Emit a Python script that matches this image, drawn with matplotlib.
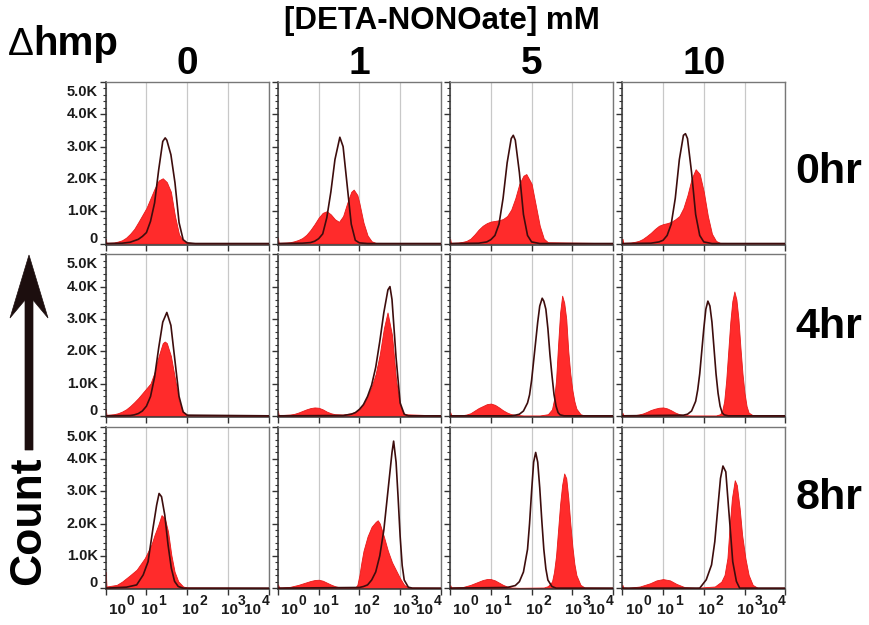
import numpy as np
import matplotlib
matplotlib.use('Agg')
import matplotlib.pyplot as plt
from matplotlib.patches import Polygon
from matplotlib.ticker import FixedLocator, LogLocator, MultipleLocator, NullFormatter

plt.rcParams['font.family'] = ['Liberation Sans', 'DejaVu Sans']

#%% data: (log10 fluorescence, count in thousands)
concs = ['0', '1', '5', '10']
times = ['0hr', '4hr', '8hr']
ytick_vals = [0, 1, 2, 3, 4, 5]
ytick_labels = ['0', '1.0K', '2.0K', '3.0K', '4.0K', '5.0K']
xtick_exps = [0, 1, 2, 3, 4]

# NO-treated samples (red filled)
red_0hr = [
    [(0.0, 0.15), (0.02, 0.02), (0.2, 0.03), (0.3, 0.06), (0.4, 0.1), (0.5, 0.18), (0.6, 0.3), (0.7, 0.45),
     (0.8, 0.66), (0.9, 0.88), (1.0, 1.1), (1.1, 1.4), (1.2, 1.7), (1.3, 1.95), (1.4, 2.02), (1.5, 1.9),
     (1.6, 1.6), (1.7, 0.85), (1.8, 0.28), (1.9, 0.08), (2.0, 0.03), (2.2, 0.01), (4.0, 0.01)],
    [(0.0, 0.18), (0.02, 0.02), (0.2, 0.03), (0.3, 0.04), (0.4, 0.07), (0.5, 0.11), (0.6, 0.17), (0.7, 0.27),
     (0.8, 0.42), (0.9, 0.6), (1.0, 0.8), (1.1, 0.95), (1.2, 1.0), (1.3, 0.9), (1.4, 0.75), (1.5, 0.67),
     (1.6, 0.85), (1.7, 1.25), (1.8, 1.6), (1.86, 1.67), (1.95, 1.5), (2.0, 1.25), (2.1, 0.65), (2.2, 0.25),
     (2.3, 0.07), (2.4, 0.02), (4.0, 0.01)],
    [(0.0, 0.15), (0.02, 0.02), (0.2, 0.03), (0.3, 0.05), (0.4, 0.08), (0.5, 0.15), (0.6, 0.28), (0.7, 0.43),
     (0.8, 0.55), (0.9, 0.63), (1.0, 0.68), (1.1, 0.7), (1.2, 0.72), (1.3, 0.76), (1.4, 0.85), (1.5, 1.05),
     (1.6, 1.4), (1.7, 1.85), (1.8, 2.1), (1.87, 2.15), (2.0, 1.85), (2.1, 1.2), (2.2, 0.55), (2.3, 0.15),
     (2.4, 0.04), (4.0, 0.01)],
    [(0.0, 0.15), (0.02, 0.02), (0.2, 0.03), (0.3, 0.05), (0.4, 0.08), (0.5, 0.14), (0.6, 0.23), (0.7, 0.33),
     (0.8, 0.45), (0.9, 0.55), (1.0, 0.6), (1.1, 0.63), (1.2, 0.67), (1.3, 0.75), (1.4, 0.85), (1.5, 1.1),
     (1.6, 1.5), (1.7, 2.0), (1.8, 2.3), (1.9, 2.15), (2.0, 1.6), (2.1, 0.85), (2.2, 0.3), (2.3, 0.08),
     (2.4, 0.02), (4.0, 0.01)],
]
red_4hr = [
    [(0.0, 0.2), (0.02, 0.03), (0.2, 0.05), (0.3, 0.08), (0.4, 0.13), (0.5, 0.2), (0.6, 0.3), (0.7, 0.42),
     (0.8, 0.55), (0.9, 0.7), (1.0, 0.85), (1.1, 1.0), (1.2, 1.35), (1.3, 1.85), (1.4, 2.25), (1.45, 2.3),
     (1.5, 2.25), (1.6, 1.85), (1.7, 1.15), (1.8, 0.45), (1.9, 0.12), (2.0, 0.03), (4.0, 0.01)],
    [(0.0, 0.15), (0.02, 0.02), (0.3, 0.04), (0.4, 0.06), (0.5, 0.1), (0.6, 0.15), (0.7, 0.2), (0.8, 0.24),
     (0.9, 0.26), (1.0, 0.25), (1.1, 0.2), (1.2, 0.13), (1.3, 0.08), (1.4, 0.05), (1.6, 0.04), (1.8, 0.08),
     (1.9, 0.12), (2.0, 0.2), (2.1, 0.35), (2.2, 0.6), (2.3, 0.9), (2.4, 1.3), (2.5, 1.9), (2.6, 2.7),
     (2.69, 3.2), (2.8, 2.5), (2.9, 1.1), (3.0, 0.3), (3.1, 0.05), (4.0, 0.01)],
    [(0.0, 0.12), (0.03, 0.02), (0.3, 0.02), (0.4, 0.04), (0.5, 0.08), (0.6, 0.16), (0.7, 0.24), (0.8, 0.3),
     (0.9, 0.36), (1.0, 0.38), (1.1, 0.34), (1.2, 0.26), (1.3, 0.17), (1.4, 0.1), (1.5, 0.05), (1.6, 0.03),
     (1.8, 0.01), (2.2, 0.01), (2.4, 0.05), (2.5, 0.2), (2.55, 0.5), (2.6, 1.1), (2.65, 2.2), (2.7, 3.2),
     (2.75, 3.72), (2.8, 3.5), (2.85, 3.0), (2.9, 2.0), (2.95, 1.3), (3.0, 0.8), (3.05, 0.45), (3.1, 0.22),
     (3.2, 0.05), (3.3, 0.01), (4.0, 0.01)],
    [(0.0, 0.1), (0.03, 0.02), (0.3, 0.02), (0.4, 0.04), (0.5, 0.07), (0.6, 0.12), (0.7, 0.18), (0.8, 0.22),
     (0.9, 0.25), (1.0, 0.26), (1.1, 0.23), (1.2, 0.17), (1.3, 0.1), (1.4, 0.05), (1.5, 0.02), (1.7, 0.01),
     (2.3, 0.01), (2.4, 0.05), (2.45, 0.15), (2.5, 0.45), (2.55, 1.1), (2.6, 2.0), (2.65, 2.9), (2.7, 3.55),
     (2.75, 3.85), (2.8, 3.6), (2.85, 3.0), (2.9, 2.1), (2.95, 1.3), (3.0, 0.7), (3.05, 0.3), (3.1, 0.1),
     (3.2, 0.02), (4.0, 0.01)],
]
red_8hr = [
    [(0.0, 0.5), (0.02, 0.05), (0.27, 0.1), (0.4, 0.2), (0.51, 0.31), (0.6, 0.4), (0.76, 0.57), (0.96, 0.93),
     (1.12, 1.34), (1.2, 1.65), (1.29, 1.95), (1.37, 2.26), (1.45, 2.16), (1.53, 1.75), (1.61, 1.03),
     (1.69, 0.51), (1.78, 0.21), (1.9, 0.05), (2.0, 0.02), (4.0, 0.01)],
    [(0.0, 0.12), (0.03, 0.02), (0.1, 0.02), (0.3, 0.04), (0.5, 0.1), (0.7, 0.18), (0.8, 0.22), (0.9, 0.25),
     (1.0, 0.26), (1.1, 0.23), (1.2, 0.17), (1.3, 0.11), (1.4, 0.06), (1.5, 0.03), (1.6, 0.01), (1.9, 0.02),
     (1.95, 0.1), (2.0, 0.4), (2.05, 0.8), (2.1, 1.15), (2.2, 1.6), (2.3, 1.9), (2.4, 2.05), (2.45, 2.1),
     (2.5, 2.0), (2.6, 1.6), (2.7, 1.15), (2.8, 0.8), (2.9, 0.55), (3.0, 0.3), (3.1, 0.1), (3.2, 0.02),
     (4.0, 0.01)],
    [(0.0, 0.1), (0.03, 0.02), (0.3, 0.03), (0.5, 0.1), (0.7, 0.2), (0.8, 0.25), (0.9, 0.28), (1.0, 0.28),
     (1.1, 0.24), (1.2, 0.17), (1.3, 0.1), (1.4, 0.05), (1.5, 0.02), (1.7, 0.01), (2.3, 0.02), (2.4, 0.06),
     (2.5, 0.2), (2.55, 0.5), (2.6, 1.0), (2.65, 1.8), (2.7, 2.6), (2.75, 3.2), (2.8, 3.55), (2.85, 3.4),
     (2.9, 2.8), (2.95, 2.0), (3.0, 1.3), (3.05, 0.75), (3.1, 0.4), (3.2, 0.1), (3.3, 0.02), (4.0, 0.01)],
    [(0.0, 0.1), (0.02, 0.02), (0.14, 0.01), (0.43, 0.05), (0.68, 0.15), (0.84, 0.24), (1.0, 0.28),
     (1.17, 0.24), (1.33, 0.13), (1.53, 0.03), (1.8, 0.01), (2.27, 0.05), (2.43, 0.2), (2.51, 0.41),
     (2.58, 0.93), (2.63, 1.85), (2.69, 2.78), (2.76, 3.34), (2.81, 3.19), (2.88, 2.47), (2.94, 1.65),
     (3.02, 0.93), (3.1, 0.41), (3.2, 0.1), (3.32, 0.01), (4.0, 0.01)],
]

# untreated controls (dark outline)
ctrl_0hr = [
    [(0.0, 0.0), (0.4, 0.01), (0.6, 0.04), (0.8, 0.13), (0.9, 0.22), (1.0, 0.34), (1.1, 0.69), (1.2, 1.26),
     (1.3, 2.28), (1.4, 3.16), (1.46, 3.27), (1.5, 3.2), (1.6, 2.75), (1.7, 1.88), (1.8, 0.65), (1.9, 0.12),
     (2.0, 0.02), (2.2, 0.0), (4.0, 0.0)],
    [(0.0, 0.0), (0.6, 0.01), (0.8, 0.03), (0.9, 0.07), (1.0, 0.15), (1.1, 0.3), (1.2, 0.8), (1.3, 1.6),
     (1.4, 2.6), (1.52, 3.29), (1.6, 3.0), (1.7, 1.8), (1.8, 0.6), (1.9, 0.1), (2.0, 0.02), (2.2, 0.0),
     (4.0, 0.0)],
    [(0.0, 0.0), (0.7, 0.01), (0.9, 0.05), (1.0, 0.12), (1.1, 0.25), (1.2, 0.6), (1.3, 1.4), (1.4, 2.5),
     (1.5, 3.25), (1.55, 3.35), (1.6, 3.2), (1.7, 2.2), (1.8, 0.9), (1.9, 0.25), (2.0, 0.05), (2.2, 0.0),
     (4.0, 0.0)],
    [(0.0, 0.0), (0.7, 0.01), (0.9, 0.05), (1.0, 0.1), (1.1, 0.25), (1.2, 0.6), (1.3, 1.4), (1.4, 2.6),
     (1.5, 3.35), (1.55, 3.4), (1.6, 3.25), (1.7, 2.2), (1.8, 0.9), (1.9, 0.25), (2.0, 0.05), (2.2, 0.0),
     (4.0, 0.0)],
]
ctrl_4hr = [
    [(0.0, 0.0), (0.6, 0.01), (0.7, 0.03), (0.8, 0.07), (0.9, 0.15), (1.0, 0.3), (1.1, 0.6), (1.2, 1.2),
     (1.3, 2.1), (1.4, 2.9), (1.5, 3.2), (1.6, 2.8), (1.7, 1.7), (1.8, 0.6), (1.9, 0.12), (2.0, 0.02),
     (4.0, 0.0)],
    [(0.0, 0.0), (1.6, 0.01), (1.8, 0.05), (1.9, 0.1), (2.0, 0.2), (2.1, 0.35), (2.2, 0.6), (2.3, 0.95),
     (2.4, 1.5), (2.5, 2.3), (2.6, 3.2), (2.7, 3.9), (2.75, 4.0), (2.8, 3.6), (2.9, 1.8), (3.0, 0.4),
     (3.1, 0.05), (3.2, 0.0), (4.0, 0.0)],
    [(0.0, 0.0), (1.5, 0.0), (1.6, 0.02), (1.7, 0.05), (1.8, 0.15), (1.9, 0.4), (1.95, 0.65), (2.0, 1.1),
     (2.05, 1.7), (2.1, 2.3), (2.15, 2.9), (2.2, 3.4), (2.26, 3.64), (2.3, 3.55), (2.35, 3.3), (2.4, 2.7),
     (2.45, 1.9), (2.5, 1.25), (2.55, 0.66), (2.6, 0.3), (2.65, 0.1), (2.7, 0.03), (2.8, 0.0), (4.0, 0.0)],
    [(0.0, 0.0), (1.5, 0.02), (1.6, 0.05), (1.7, 0.15), (1.8, 0.45), (1.85, 0.8), (1.9, 1.3), (1.95, 2.0),
     (2.0, 2.7), (2.05, 3.3), (2.1, 3.55), (2.15, 3.4), (2.2, 2.9), (2.25, 2.1), (2.3, 1.3), (2.35, 0.7),
     (2.4, 0.3), (2.45, 0.1), (2.5, 0.03), (2.6, 0.0), (4.0, 0.0)],
]
ctrl_8hr = [
    [(0.0, 0.0), (0.51, 0.03), (0.76, 0.1), (0.92, 0.41), (1.04, 0.82), (1.16, 1.85), (1.25, 2.57),
     (1.31, 2.93), (1.37, 2.83), (1.45, 2.26), (1.53, 1.34), (1.61, 0.62), (1.69, 0.21), (1.78, 0.05),
     (1.9, 0.0), (4.0, 0.0)],
    [(0.0, 0.0), (2.0, 0.02), (2.1, 0.05), (2.2, 0.1), (2.3, 0.25), (2.4, 0.5), (2.5, 1.0), (2.6, 1.8),
     (2.7, 3.0), (2.8, 4.2), (2.84, 4.55), (2.9, 3.9), (2.95, 2.8), (3.0, 1.6), (3.05, 0.7), (3.1, 0.25),
     (3.2, 0.03), (3.3, 0.0), (4.0, 0.0)],
    [(0.0, 0.0), (1.4, 0.02), (1.6, 0.08), (1.7, 0.2), (1.8, 0.5), (1.9, 1.2), (1.95, 2.0), (2.0, 3.0),
     (2.05, 3.9), (2.1, 4.2), (2.15, 3.9), (2.2, 3.1), (2.25, 2.1), (2.3, 1.2), (2.35, 0.6), (2.4, 0.25),
     (2.5, 0.05), (2.6, 0.0), (4.0, 0.0)],
    [(0.0, 0.0), (1.9, 0.0), (2.06, 0.26), (2.19, 0.72), (2.27, 1.44), (2.35, 2.57), (2.41, 3.4),
     (2.47, 3.78), (2.54, 3.6), (2.59, 2.78), (2.66, 1.65), (2.71, 0.82), (2.8, 0.21), (2.88, 0.0),
     (4.0, 0.0)],
]

red_rows = [red_0hr, red_4hr, red_8hr]
ctrl_rows = [ctrl_0hr, ctrl_4hr, ctrl_8hr]

#%% layout (pixels of the 869x625 figure)
W, H = 869, 625
fig = plt.figure(figsize=(W / 100, H / 100), dpi=100)

ov = fig.add_axes([0, 0, 1, 1])
ov.set_xlim(0, W)
ov.set_ylim(H, 0)
ov.axis('off')

# FlowJo-style label placement: centre of the "10" of each x label (decades),
# and the vertical nudge of the end y labels so they stay inside the panel
xlab_pos = [0.29, 1.07, 2.07, 3.03, 3.6]
ylab_nudge = [5, 0, 0, 0, 0, -10]

red_col = '#ff2b2b'
ctrl_col = '#3d0d0d'
txt_col = '#1a1a1a'

for r in range(3):
    for c in range(4):
        x0 = 105.7 + c * 172.2
        y0 = 82 + r * 172.3
        ax = fig.add_axes([x0 / W, 1 - (y0 + 162.5) / H, 163 / W, 162.5 / H])

        red = np.array(red_rows[r][c])
        ctrl = np.array(ctrl_rows[r][c])
        ax.fill_between(10 ** red[:, 0], 0, red[:, 1], color=red_col, lw=0.6,
                        edgecolor='#e81818', zorder=2)
        ax.plot(10 ** ctrl[:, 0], ctrl[:, 1], color=ctrl_col, lw=1.2, zorder=3)

        ax.set_xscale('log')
        ax.set_xlim(1, 1e4)
        ax.set_ylim(-0.03, 5.0)
        ax.xaxis.set_major_locator(FixedLocator([10.0 ** e for e in xtick_exps]))
        ax.xaxis.set_minor_locator(LogLocator(base=10, subs=np.arange(2, 10)))
        ax.xaxis.set_major_formatter(NullFormatter())
        ax.xaxis.set_minor_formatter(NullFormatter())
        ax.yaxis.set_major_locator(FixedLocator(ytick_vals))
        ax.yaxis.set_minor_locator(MultipleLocator(0.2))
        ax.yaxis.set_major_formatter(NullFormatter())
        ax.grid(axis='x', which='major', color='#c8c8c8', lw=0.9, zorder=0)
        ax.set_axisbelow(True)

        ax.tick_params(which='major', length=4, width=1, color='#333333', direction='out')
        ax.tick_params(which='minor', length=2, width=0.8, color='#333333', direction='out')
        for side in ['top', 'right']:
            ax.spines[side].set_color('#777777')
            ax.spines[side].set_linewidth(1.0)
        for side in ['left', 'bottom']:
            ax.spines[side].set_color('#333333')
            ax.spines[side].set_linewidth(1.1)

        if c == 0:
            for v, lab, dy in zip(ytick_vals, ytick_labels, ylab_nudge):
                ax.annotate(lab, xy=(0, v), xycoords=('axes fraction', 'data'),
                            xytext=(-8, dy), textcoords='offset pixels',
                            ha='right', va='center', fontsize=10.5, fontweight='bold',
                            color=txt_col, annotation_clip=False)

        if r == 0:
            ax.set_title(concs[c], fontsize=28, fontweight='bold', pad=1.5)

        if r == 2:
            for e, d in zip(xtick_exps, xlab_pos):
                ax.annotate('10', xy=(10 ** d, 0), xycoords=('data', 'axes fraction'),
                            xytext=(0, -21), textcoords='offset pixels',
                            ha='center', va='center', fontsize=11, fontweight='bold',
                            color=txt_col, annotation_clip=False)
                ax.annotate(str(e), xy=(10 ** d, 0), xycoords=('data', 'axes fraction'),
                            xytext=(9, -12), textcoords='offset pixels',
                            ha='left', va='center', fontsize=10, fontweight='bold',
                            color=txt_col, annotation_clip=False)

#%% header, row labels and the Count arrow
ov.text(442, 21, '[DETA-NONOate] mM', ha='center', va='center', fontsize=22.5, fontweight='bold')
ov.text(8, 55, '\u0394', ha='left', va='baseline', fontsize=28)
ov.text(33, 55, 'hmp', ha='left', va='baseline', fontsize=29, fontweight='bold')

for t, yc in zip(times, [172, 327, 498]):
    ov.text(829, yc, t, ha='center', va='center', fontsize=31, fontweight='bold')

ov.text(29, 521, 'Count', rotation=90, ha='center', va='center', fontsize=32, fontweight='bold')

arrow_col = '#1c0e0e'
ov.add_patch(Polygon([(25, 450), (25, 300), (10, 318), (29, 255), (48, 318), (33, 300), (33, 450)],
                     closed=True, facecolor=arrow_col, edgecolor=arrow_col, lw=0.5))

fig.savefig('out.png', dpi=100)
